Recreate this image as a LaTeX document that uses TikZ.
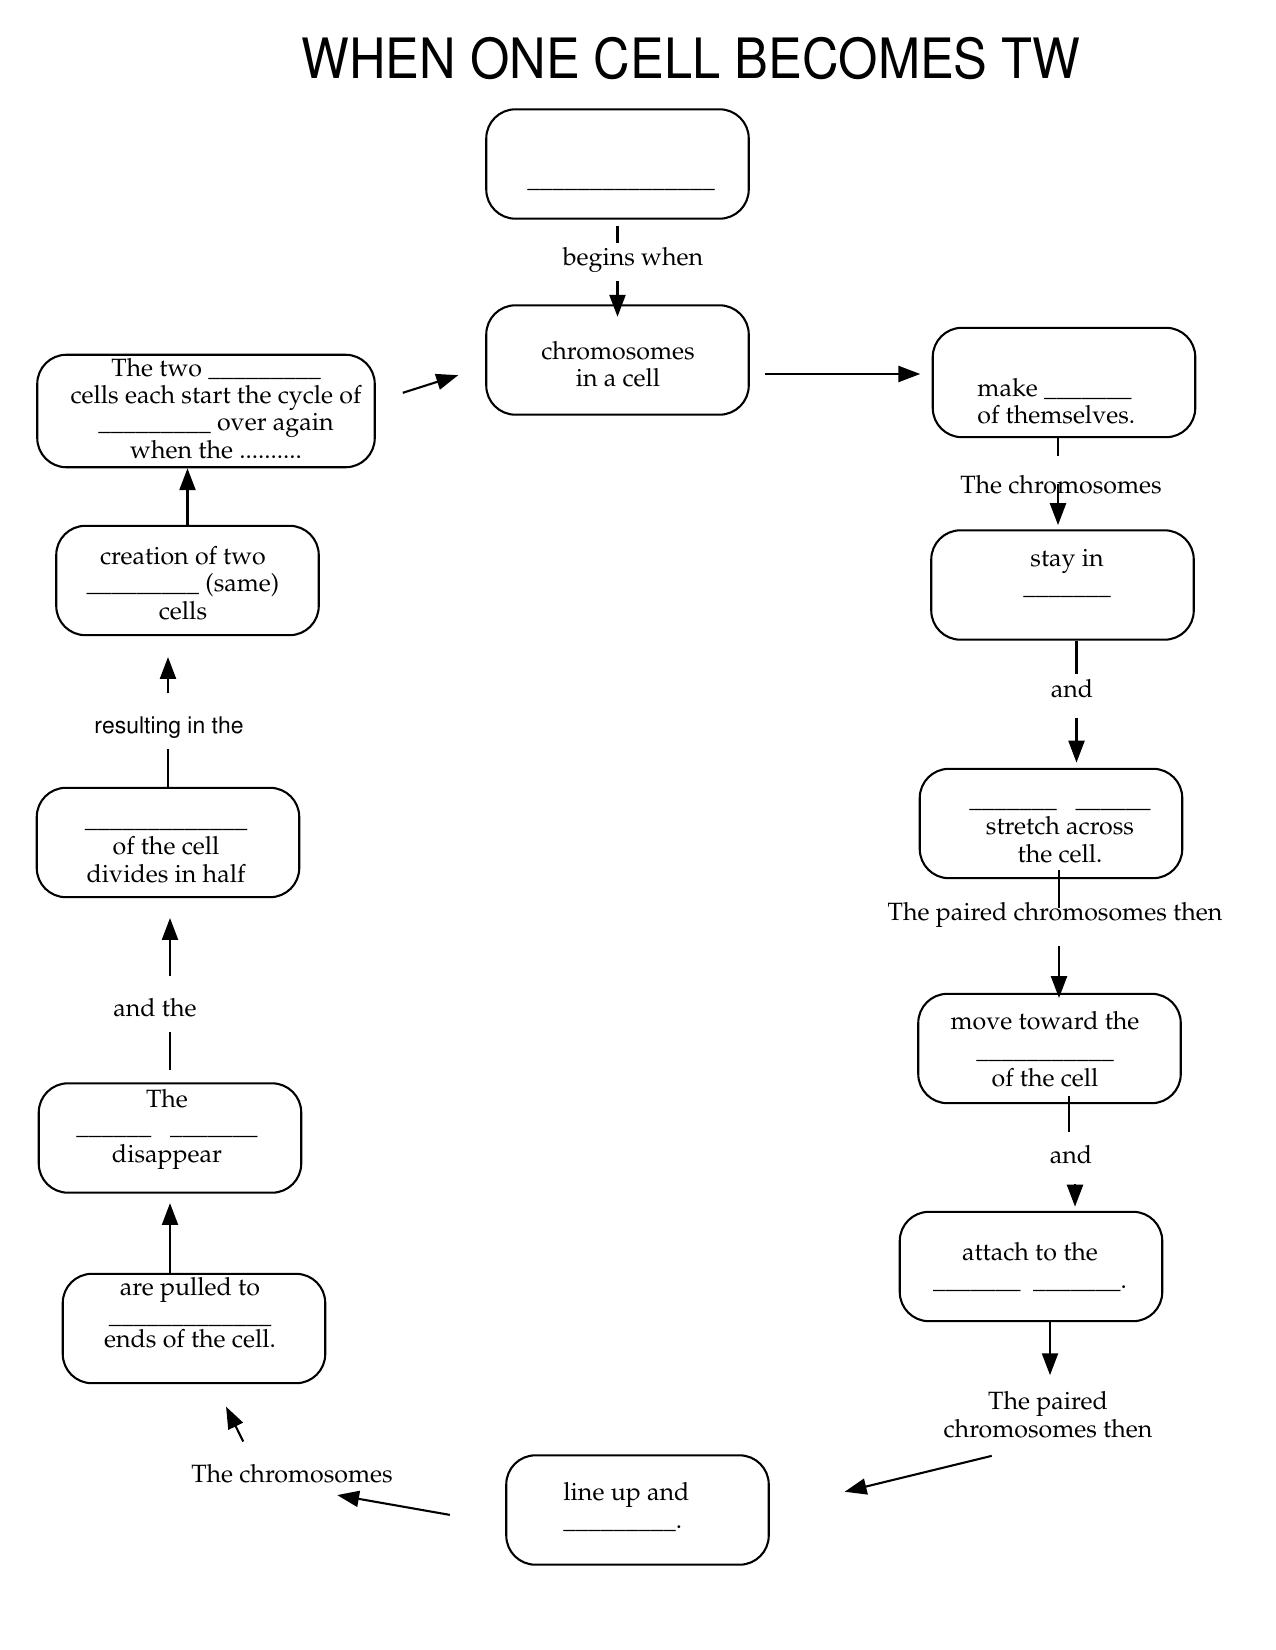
\documentclass[tikz,border=0pt]{standalone}
\usepackage[T1]{fontenc}
\usepackage{mathpazo}
\usepackage[scaled=1]{helvet}
\usepackage{graphicx}
\usetikzlibrary{arrows.meta, calc}

\newcommand{\boxfont}{\fontsize{12}{13}\selectfont}
\newcommand{\blanks}[1]{\foreach \k in {1,...,#1}{\_}}

\tikzset{
  cellbox/.style={draw, line width=1pt, rounded corners=14pt, minimum width=126pt, minimum height=52.5pt, inner sep=0pt},
  boxtext/.style={font=\boxfont, align=center, inner sep=0pt, anchor=base},
  linklabel/.style={font=\boxfont, inner sep=2pt, anchor=base},
  stem/.style={line width=1pt},
  flow/.style={line width=1pt, -{Triangle[length=10.5pt, width=7.7pt]}},
}

\begin{document}
\begin{tikzpicture}[x=0.48pt, y=-0.48pt]
\useasboundingbox (0,0) rectangle (1275,1650);

% title
\node[anchor=base, inner sep=0pt, font=\sffamily\fontsize{26.7}{30}\selectfont] (title) at (691,79) {\scalebox{0.91}[1]{WHEN ONE CELL BECOMES TW}};

% boxes, clockwise from the top (text placed by its last baseline)
\node[cellbox] (top) at (617.5,164) {};
\node[boxtext] (topT) at (621,188) {\blanks{15}};
\node[cellbox] (chrom) at (617.5,360) {};
\node[boxtext] (chromT) at (618,387) {chromosomes\\in a cell};
\node[cellbox] (make) at (1064,382.5) {};
\node[boxtext, align=left, anchor=base west] (makeT) at (977,424) {make \blanks{7}\\of themselves.};
\node[cellbox] (stay) at (1062.5,585) {};
\node[boxtext] (stayT) at (1067,594) {stay in\\\blanks{7}};
\node[cellbox] (stretch) at (1051,823.5) {};
\node[boxtext] (stretchT) at (1060,862) {\blanks{7}\ \ \ \blanks{6}\\stretch across\\the cell.};
\node[cellbox] (move) at (1049.5,1048.5) {};
\node[boxtext] (moveT) at (1045,1086) {move toward the\\[1pt]\blanks{11}\\of the cell};
\node[cellbox] (attach) at (1031,1266.5) {};
\node[boxtext] (attachT) at (1030,1288) {attach to the\\\blanks{7}\ \ \blanks{7}.};
\node[cellbox] (lineup) at (637.5,1510) {};
\node[boxtext, align=left, anchor=base west] (lineupT) at (563,1528) {line up and\\\blanks{9}.};
\node[cellbox] (pulled) at (194,1328.5) {};
\node[boxtext] (pulledT) at (190,1347) {are pulled to\\\blanks{13}\\[-1.5pt]ends of the cell.};
\node[cellbox] (vanish) at (170,1138) {};
\node[boxtext] (vanishT) at (167,1162) {The\\\blanks{6}\ \ \ \blanks{7}\\disappear};
\node[cellbox] (halve) at (168,842.5) {};
\node[boxtext] (halveT) at (166,882) {\blanks{13}\\of the cell\\divides in half};
\node[cellbox] (twin) at (187.5,580.5) {};
\node[boxtext] (twinT) at (183,619) {creation of two\\\blanks{9} (same)\\cells};
\node[cellbox, minimum width=162pt, minimum height=54pt] (again) at (206,411) {};
\node[boxtext] (againT) at (216,458) {The two \blanks{9}\\cells each start the cycle of\\\blanks{9} over again\\when the ..........};

% link words
\node[linklabel] (lBegins) at (633,266) {begins when};
\node[linklabel] (lChromA) at (1061,493) {The chromosomes};
\node[linklabel] (lAndA) at (1072,697) {and};
\node[linklabel] (lPairedA) at (1055,920) {The paired chromosomes then};
\node[linklabel] (lAndB) at (1071,1163) {and};
\node[linklabel, align=center] (lPairedB) at (1048,1437) {The paired\\chromosomes then};
\node[linklabel] (lChromB) at (292,1482) {The chromosomes};
\node[linklabel] (lAndThe) at (155,1016) {and the};
\node[linklabel, font=\sffamily\fontsize{11}{13}\selectfont] (lResult) at (169,733) {resulting in the};

% connectors
\draw[stem, shorten <=3pt] (top.south) -- (top.south |- lBegins.north);
\draw[flow, shorten <=1.5pt, shorten >=-6pt] (top.south |- lBegins.south) -- (chrom.north);
\draw[flow, shorten <=7.5pt, shorten >=5.5pt] ($(chrom.east)+(0,14)$) -- ($(chrom.east -| make.west)+(0,14)$);
\draw[stem, shorten >=7pt] ($(make.south)+(-6,0)$) -- ($(make.south |- lChromA.north)+(-6,0)$);
\draw[flow, shorten >=2pt] ($(make.south |- lChromA.center)+(-6,0)$) -- ($(make.south |- stay.north)+(-6,0)$);
\draw[stem] ($(stay.south)+(14,0)$) -- ($(stay.south |- lAndA.north)+(14,0)$);
\draw[flow, shorten <=7.7pt, shorten >=2.5pt] ($(stay.south |- lAndA.south)+(14,0)$) -- ($(stay.south |- stretch.north)+(14,0)$);
\draw[stem, shorten <=-4.5pt, shorten >=-5pt] ($(stretch.south)+(8,0)$) -- ($(stretch.south |- lPairedA.north)+(8,0)$);
\draw[flow, shorten <=6.7pt, shorten >=-2.5pt] ($(stretch.south |- lPairedA.south)+(8,0)$) -- ($(stretch.south |- move.north)+(8,0)$);
\draw[stem, shorten <=-4pt, shorten >=4pt] ($(move.south -| lAndB.north)+(-2,0)$) -- ($(lAndB.north)+(-2,0)$);
\draw[flow, shorten <=7.7pt, shorten >=2pt] ($(lAndB.south)+(4,0)$) -- ($(lAndB.south |- attach.north)+(4,0)$);
\draw[flow, shorten >=5.8pt] ($(attach.south)+(19,0)$) -- ($(attach.south |- lPairedB.north)+(19,0)$);
\draw[flow, shorten <=27.8pt, shorten >=37pt] (lPairedB.south) -- (lineup.east);
\draw[flow, shorten <=27pt, shorten >=22pt] ($(lineup.west)+(0,14.6)$) -- (lChromB.south);
\draw[flow, shorten <=9.5pt, shorten >=12pt] ($(lChromB.north)+(-40,0)$) -- ($(pulled.south)+(21,0)$);
\draw[flow, shorten <=-1pt, shorten >=4.5pt] (pulled.north -| vanish.south) -- (vanish.south);
\draw[stem, shorten <=6pt, shorten >=5pt] (vanish.north) -- (vanish.north |- lAndThe.south);
\draw[flow, shorten <=8.5pt, shorten >=9.5pt] (vanish.north |- lAndThe.north) -- (vanish.north |- halve.south);
\draw[stem, shorten >=3pt] (halve.north) -- (halve.north |- lResult.south);
\draw[flow, shorten <=9pt, shorten >=10pt] (halve.north |- lResult.north) -- (halve.north |- twin.south);
\draw[flow] (twin.north) -- (twin.north |- again.south);
\draw[flow, shorten <=13.6pt, shorten >=13.6pt] ($(again.east)+(0,-9.6)$) -- ($(chrom.west)+(0,6.6)$);
\end{tikzpicture}
\end{document}
